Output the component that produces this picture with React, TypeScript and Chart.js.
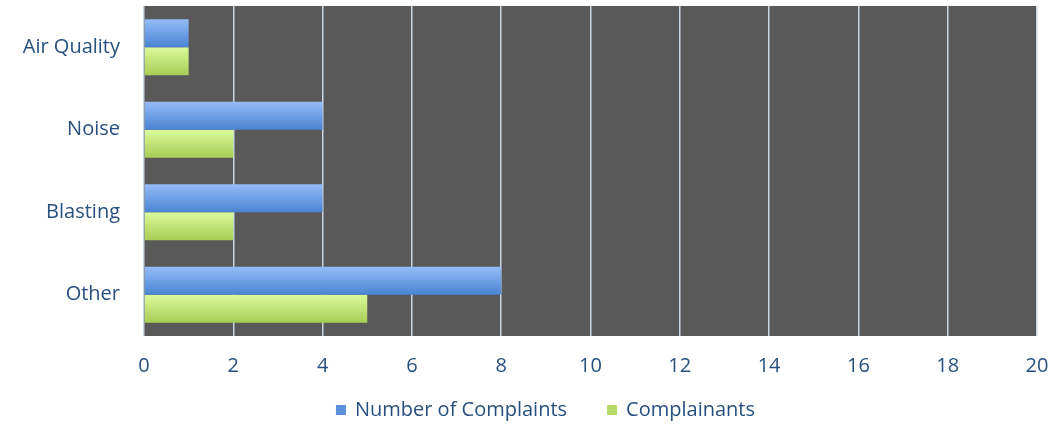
import React, { useEffect, useRef } from "react";
import { Chart, registerables } from "chart.js";

Chart.register(...registerables);

const categories = ["Air Quality", "Noise", "Blasting", "Other"];
const numberOfComplaints = [1, 4, 4, 8];
const complainants = [1, 2, 2, 5];
const seriesNames = ["Number of Complaints", "Complainants"];
const legendColors = ["#5B8FDC", "#B5DA68"];
const xMin = 0;
const xMax = 20;
const xStep = 2;

const CAT_PCT = 0.68;
const FONT = "'Open Sans', Lato, sans-serif";
const FONT_SIZE = 20;
const TEXT = "#27507F";

function makeGrad(which: number, top: string, bottom: string) {
  return (ctx: any) => {
    const chart = ctx.chart;
    const area = chart.chartArea;
    if (!area) return bottom;
    const y = chart.scales.y;
    const center = y.getPixelForValue(ctx.dataIndex);
    const cat = area.height / categories.length;
    const half = (cat * CAT_PCT) / 2;
    const t = which === 0 ? center - half : center;
    const b = which === 0 ? center : center + half;
    const g = chart.ctx.createLinearGradient(0, t, 0, b);
    g.addColorStop(0, top);
    g.addColorStop(1, bottom);
    return g;
  };
}

const bgPlugin = {
  id: "plotBg",
  beforeDraw(chart: any) {
    const { ctx, chartArea } = chart;
    if (!chartArea) return;
    ctx.save();
    ctx.fillStyle = "#595959";
    ctx.fillRect(chartArea.left, chartArea.top, chartArea.right - chartArea.left, chartArea.bottom - chartArea.top);
    ctx.restore();
  },
};

const legendPlugin = {
  id: "bottomLegend",
  afterDraw(chart: any) {
    const { ctx } = chart;
    ctx.save();
    ctx.font = `${FONT_SIZE}px ${FONT}`;
    ctx.textBaseline = "middle";
    ctx.textAlign = "left";
    const box = 10;
    const gapBoxText = 9;
    const gapItems = 40;
    const widths = seriesNames.map((n) => ctx.measureText(n).width);
    const total = widths.reduce((a, w) => a + box + gapBoxText + w, 0) + gapItems * (seriesNames.length - 1);
    const cy = chart.height - 14;
    let x = chart.width * 0.519 - total / 2;
    seriesNames.forEach((n, i) => {
      ctx.fillStyle = legendColors[i];
      ctx.fillRect(x, cy - box / 2, box, box);
      x += box + gapBoxText;
      ctx.fillStyle = TEXT;
      ctx.fillText(n, x, cy);
      x += widths[i] + gapItems;
    });
    ctx.restore();
  },
};

export default function App() {
  const ref = useRef<HTMLCanvasElement>(null);
  useEffect(() => {
    const chart = new Chart(ref.current!, {
      type: "bar",
      data: {
        labels: categories,
        datasets: [
          {
            label: seriesNames[0],
            data: numberOfComplaints,
            backgroundColor: makeGrad(0, "#95BCF7", "#4A84D2"),
            barPercentage: 1,
            categoryPercentage: CAT_PCT,
          },
          {
            label: seriesNames[1],
            data: complainants,
            backgroundColor: makeGrad(1, "#DBFB9C", "#A6CD55"),
            barPercentage: 1,
            categoryPercentage: CAT_PCT,
          },
        ],
      },
      options: {
        indexAxis: "y",
        animation: false,
        responsive: true,
        maintainAspectRatio: false,
        layout: { padding: { top: 6, right: 0, left: 0, bottom: 28 } },
        scales: {
          x: {
            min: xMin,
            max: xMax,
            ticks: { stepSize: xStep, color: TEXT, font: { family: FONT, size: FONT_SIZE }, padding: 18 },
            grid: { color: "#C9D6E4", lineWidth: 1.5, drawTicks: false },
            border: { display: false },
            afterFit: (s: any) => {
              s.height = 60;
              s.paddingLeft = 0;
              s.paddingRight = 14;
            },
          },
          y: {
            ticks: { color: TEXT, font: { family: FONT, size: FONT_SIZE }, padding: 24 },
            grid: { display: false, drawTicks: false },
            border: { display: false },
            afterFit: (s: any) => {
              s.width = 144;
              s.paddingTop = 0;
              s.paddingBottom = 0;
            },
          },
        },
        plugins: {
          legend: { display: false },
          tooltip: { enabled: false },
        },
      },
      plugins: [bgPlugin, legendPlugin],
    });
    return () => chart.destroy();
  }, []);
  return (
    <div style={{ position: "fixed", left: 0, top: 0, width: 1051, height: 424, background: "#fff" }}>
      <canvas ref={ref} />
    </div>
  );
}
